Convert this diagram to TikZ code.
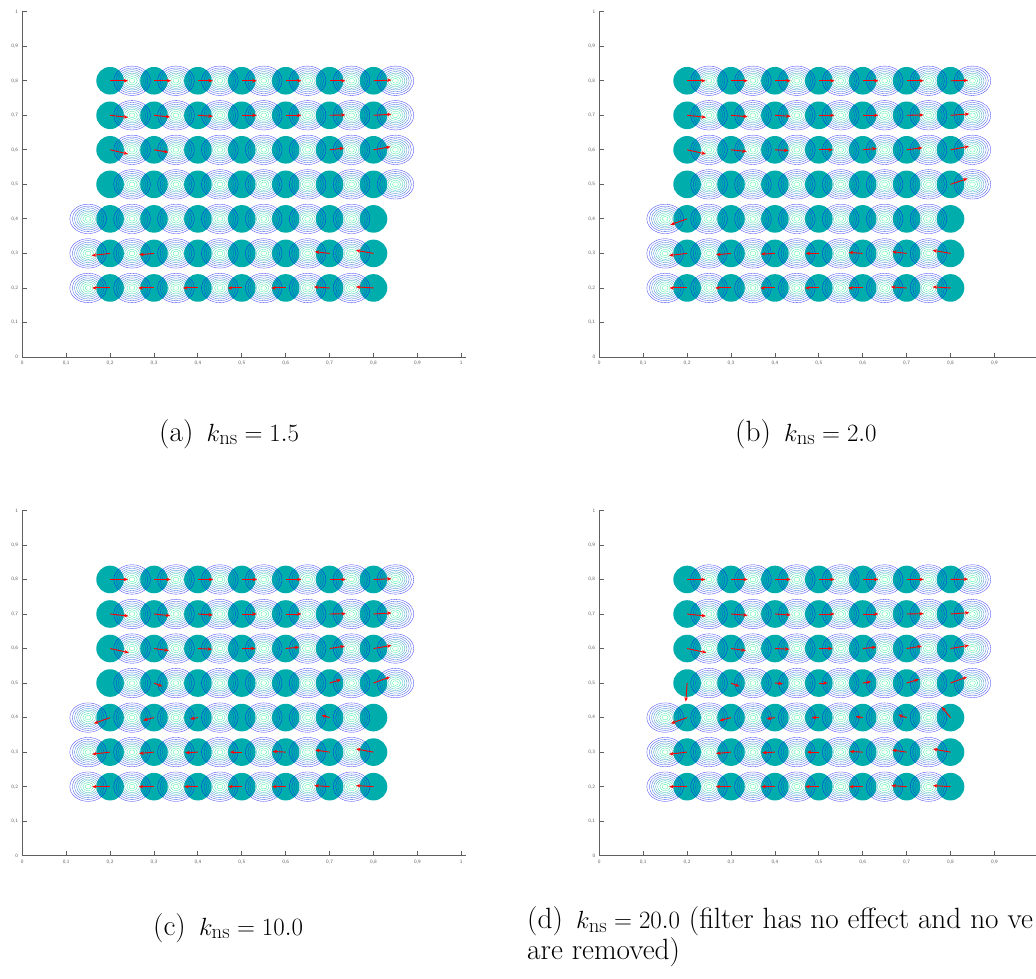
\documentclass[tikz,border=0pt]{standalone}
\usetikzlibrary{arrows.meta}
\definecolor{tealdot}{RGB}{0,173,173}
\definecolor{axgray}{RGB}{95,95,95}
\definecolor{cA}{RGB}{0,0,255}
\definecolor{cB}{RGB}{0,36,237}
\definecolor{cC}{RGB}{0,73,219}
\definecolor{cD}{RGB}{0,109,200}
\definecolor{cE}{RGB}{0,146,182}
\definecolor{cF}{RGB}{0,182,164}
\definecolor{cG}{RGB}{0,219,146}
\definecolor{cH}{RGB}{0,255,128}
\tikzset{
  dotfill/.style={fill=tealdot, draw=none},
  ring/.style={line width=0.33pt, draw opacity=0.75},
  vec/.style={draw=red, line width=0.9pt, -{Stealth[length=4.5pt,width=3.5pt]}},
  axisline/.style={draw=axgray, line width=0.8pt},
  ticklab/.style={font=\fontsize{5}{6}\sffamily, text=axgray, inner sep=0pt},
  captext/.style={font=\fontsize{29.3}{26}\selectfont, inner sep=0pt, anchor=base west, align=left}
}
\newcommand{\labgap}{\hspace{0.45em}}
\newcommand{\plotpanel}[3]{%
\begin{scope}[xshift=#1pt, yshift=-#2pt, x=439pt, y=345.3pt]
  % axes
  \draw[axisline] (0,1) -- (0,0) -- (1.01,0);
  \foreach \t in {1,...,10} {
    \draw[axisline] (\t/10,0) -- ++(0,4.3pt);
    \draw[axisline] (0,\t/10) -- ++(4.3pt,0);
  }
  \foreach \t/\l in {0/0,1/{0,1},2/{0,2},3/{0,3},4/{0,4},5/{0,5},6/{0,6},7/{0,7},8/{0,8},9/{0,9}} {
    \node[ticklab] (xl\t) at (\t/10,-0.018) {\l};
  }
  \foreach \t/\l in {0/0,1/{0,1},2/{0,2},3/{0,3},4/{0,4},5/{0,5},6/{0,6},7/{0,7},8/{0,8},9/{0,9},10/1} {
    \node[ticklab, anchor=east] (yl\t) at (-0.009,\t/10) {\l};
  }
  % particles
  \foreach \y in {0.2,0.3,0.4,0.5,0.6,0.7,0.8}
    \foreach \x in {0.2,0.3,0.4,0.5,0.6,0.7,0.8}
      \fill[dotfill] (\x,\y) circle[radius=13.8pt];
  % contour rings
  \foreach \y/\xs in {0.2/0.15,0.3/0.15,0.4/0.15,0.5/0.25,0.6/0.25,0.7/0.25,0.8/0.25}
    \foreach \k in {0,...,6} {
      \foreach \r/\c in {1.0/cA,0.87/cB,0.75/cC,0.63/cD,0.52/cE,0.41/cF,0.29/cG,0.16/cH}
        \draw[ring, draw=\c] (\xs+\k/10,\y) ellipse[x radius=18.3*\r pt, y radius=14.7*\r pt];
    }
  % vectors
  \foreach \x/\y/\u/\v in {#3}
    \draw[vec] (\x,\y) -- ++(\u,\v);
\end{scope}}
\begin{document}
\begin{tikzpicture}[x=1pt,y=-1pt]
\useasboundingbox (0,0) rectangle (1036,979);
\clip (0,0) rectangle (1036,979);
\fill[white] (0,0) rectangle (1036,979);
% (a)
\plotpanel{22.3}{357}{%
0.2/0.8/0.041/0, 0.3/0.8/0.039/0, 0.4/0.8/0.034/0, 0.5/0.8/0.034/0, 0.6/0.8/0.036/0, 0.7/0.8/0.036/0, 0.8/0.8/0.041/0.002,
0.2/0.7/0.041/-0.006, 0.3/0.7/0.037/-0.005, 0.4/0.7/0.034/-0.003, 0.5/0.7/0.034/0, 0.6/0.7/0.036/0, 0.7/0.7/0.036/0.001, 0.8/0.7/0.041/0.003,
0.2/0.6/0.041/-0.012, 0.3/0.6/0.033/-0.007, 0.7/0.6/0.033/0.005, 0.8/0.6/0.039/0.009,
0.2/0.3/-0.042/-0.006, 0.3/0.3/-0.034/-0.004, 0.7/0.3/-0.034/0.005, 0.8/0.3/-0.040/0.009,
0.2/0.2/-0.041/0, 0.3/0.2/-0.036/0, 0.4/0.2/-0.034/0, 0.5/0.2/-0.032/0, 0.6/0.2/-0.033/0, 0.7/0.2/-0.036/0.003, 0.8/0.2/-0.040/0.003}
\node[ticklab] (xa10) at (461.3,363.2) {1};
% (b)
\plotpanel{599.3}{357}{%
0.2/0.8/0.042/0, 0.3/0.8/0.038/0, 0.4/0.8/0.036/0, 0.5/0.8/0.036/0, 0.6/0.8/0.036/0, 0.7/0.8/0.039/0, 0.8/0.8/0.040/0.001,
0.2/0.7/0.043/-0.006, 0.3/0.7/0.038/-0.004, 0.4/0.7/0.036/-0.003, 0.5/0.7/0.036/0, 0.6/0.7/0.036/0, 0.7/0.7/0.039/0.001, 0.8/0.7/0.043/0.004,
0.2/0.6/0.043/-0.012, 0.3/0.6/0.036/-0.005, 0.4/0.6/0.031/-0.002, 0.5/0.6/0.032/0, 0.6/0.6/0.032/0.004, 0.7/0.6/0.036/0.006, 0.8/0.6/0.042/0.010,
0.8/0.5/0.039/0.017,
0.2/0.4/-0.038/-0.017,
0.2/0.3/-0.041/-0.006, 0.3/0.3/-0.034/-0.004, 0.4/0.3/-0.032/-0.002, 0.5/0.3/-0.030/0, 0.6/0.3/-0.032/0.003, 0.7/0.3/-0.033/0.005, 0.8/0.3/-0.041/0.009,
0.2/0.2/-0.040/0, 0.3/0.2/-0.036/0, 0.4/0.2/-0.033/0, 0.5/0.2/-0.031/0, 0.6/0.2/-0.033/0, 0.7/0.2/-0.036/0.003, 0.8/0.2/-0.041/0.003}
% (c)
\plotpanel{22.3}{855.7}{%
0.2/0.8/0.041/0, 0.3/0.8/0.038/0, 0.4/0.8/0.035/0, 0.5/0.8/0.035/0, 0.6/0.8/0.036/0, 0.7/0.8/0.037/0, 0.8/0.8/0.041/0.002,
0.2/0.7/0.042/-0.006, 0.3/0.7/0.037/-0.005, 0.4/0.7/0.034/-0.003, 0.5/0.7/0.034/0, 0.6/0.7/0.036/0, 0.7/0.7/0.037/0.001, 0.8/0.7/0.041/0.003,
0.2/0.6/0.043/-0.012, 0.3/0.6/0.034/-0.006, 0.4/0.6/0.032/-0.002, 0.5/0.6/0.031/0, 0.6/0.6/0.031/0.004, 0.7/0.6/0.035/0.007, 0.8/0.6/0.041/0.009,
0.3/0.5/0.019/-0.010, 0.7/0.5/0.026/0.010, 0.8/0.5/0.038/0.018,
0.2/0.4/-0.037/-0.017, 0.3/0.4/-0.025/-0.008, 0.4/0.4/-0.018/-0.004, 0.7/0.4/-0.018/0.007,
0.2/0.3/-0.041/-0.006, 0.3/0.3/-0.034/-0.004, 0.4/0.3/-0.029/-0.002, 0.5/0.3/-0.027/0, 0.6/0.3/-0.030/0.002, 0.7/0.3/-0.033/0.006, 0.8/0.3/-0.040/0.009,
0.2/0.2/-0.041/0, 0.3/0.2/-0.035/0, 0.4/0.2/-0.031/0, 0.5/0.2/-0.031/0, 0.6/0.2/-0.031/0, 0.7/0.2/-0.035/0.003, 0.8/0.2/-0.040/0.003}
\node[ticklab] (xc10) at (461.3,861.9) {1};
% (d)
\plotpanel{599.3}{855.7}{%
0.2/0.8/0.042/0, 0.3/0.8/0.038/0, 0.4/0.8/0.036/0, 0.5/0.8/0.036/0, 0.6/0.8/0.036/0, 0.7/0.8/0.039/0, 0.8/0.8/0.040/0.001,
0.2/0.7/0.043/-0.006, 0.3/0.7/0.038/-0.004, 0.4/0.7/0.036/-0.003, 0.5/0.7/0.036/0, 0.6/0.7/0.036/0, 0.7/0.7/0.039/0.001, 0.8/0.7/0.043/0.004,
0.2/0.6/0.044/-0.012, 0.3/0.6/0.034/-0.006, 0.4/0.6/0.033/-0.002, 0.5/0.6/0.031/0, 0.6/0.6/0.031/0.004, 0.7/0.6/0.035/0.007, 0.8/0.6/0.042/0.009,
0.2/0.5/-0.003/-0.054, 0.3/0.5/0.019/-0.010, 0.4/0.5/0.018/-0.002, 0.5/0.5/0.020/0, 0.6/0.5/0.019/0.004, 0.7/0.5/0.028/0.011, 0.8/0.5/0.038/0.018,
0.2/0.4/-0.037/-0.017, 0.3/0.4/-0.026/-0.009, 0.4/0.4/-0.019/-0.004, 0.5/0.4/-0.016/0, 0.6/0.4/-0.016/0.003, 0.7/0.4/-0.019/0.008, 0.8/0.4/-0.020/0.031,
0.2/0.3/-0.041/-0.006, 0.3/0.3/-0.034/-0.004, 0.4/0.3/-0.029/-0.002, 0.5/0.3/-0.027/0, 0.6/0.3/-0.030/0.002, 0.7/0.3/-0.033/0.006, 0.8/0.3/-0.040/0.009,
0.2/0.2/-0.041/0, 0.3/0.2/-0.035/0, 0.4/0.2/-0.031/0, 0.5/0.2/-0.031/0, 0.6/0.2/-0.031/0, 0.7/0.2/-0.035/0.003, 0.8/0.2/-0.040/0.003}
% captions
\node[captext] (capa) at (159,441) {(a)\labgap$k_{\mathrm{ns}}=1.5$};
\node[captext] (capb) at (735,441) {(b)\labgap$k_{\mathrm{ns}}=2.0$};
\node[captext] (capc) at (153,935) {(c)\labgap$k_{\mathrm{ns}}=10.0$};
\node[captext] (capd) at (527,959) {(d)\labgap$k_{\mathrm{ns}}=20.0$ (filter has no effect and no ve\\are removed)};
\end{tikzpicture}
\end{document}
